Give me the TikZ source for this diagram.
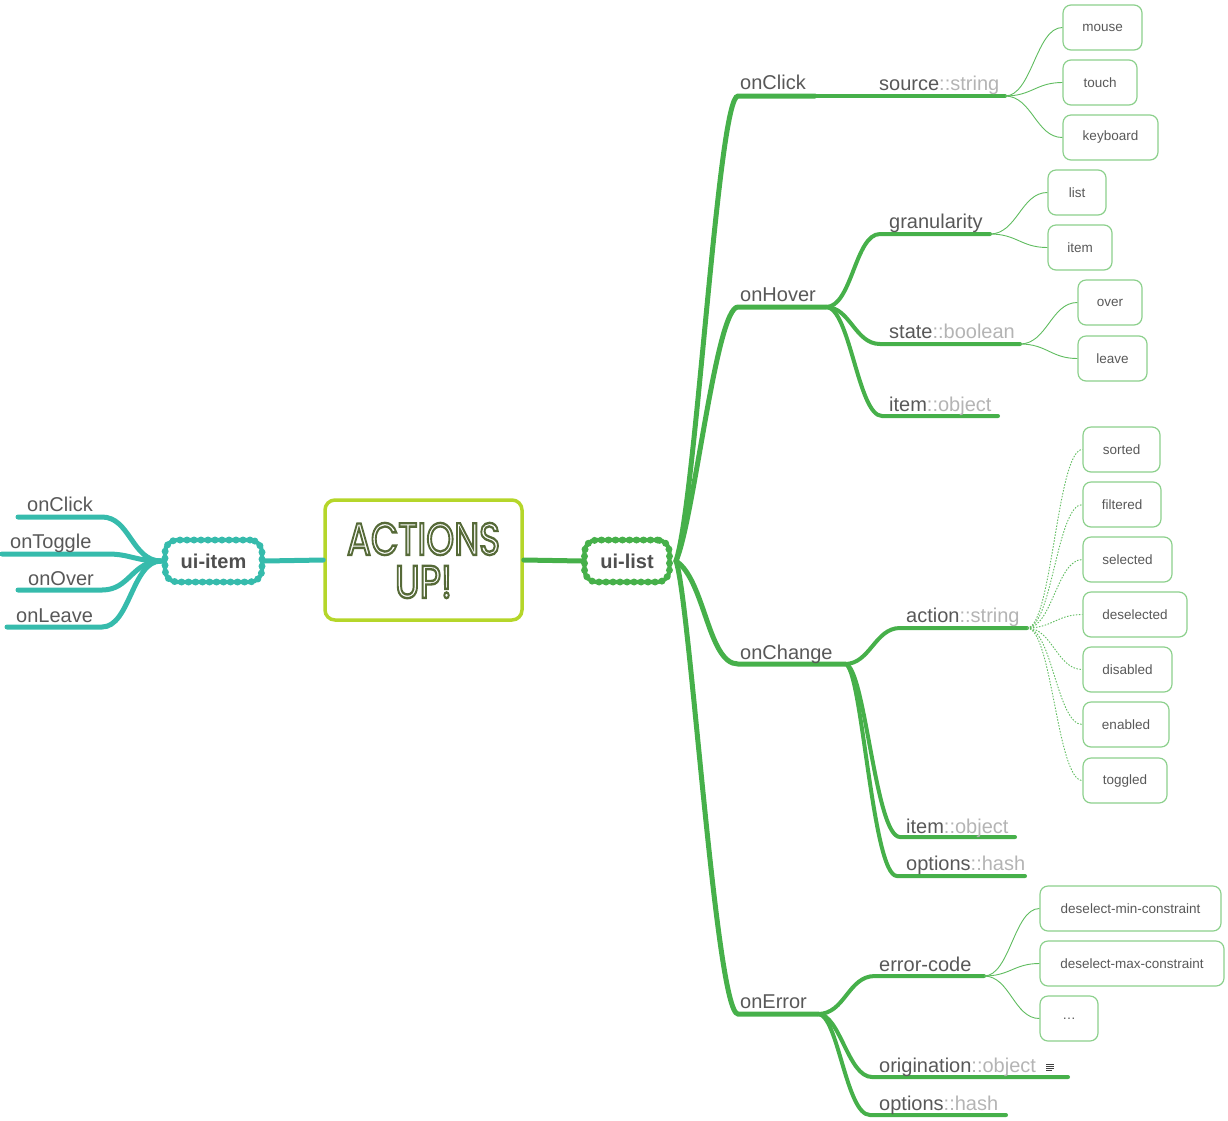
\documentclass[tikz,border=0pt]{standalone}
\usepackage{fontspec}
\setmainfont{Liberation Sans}
\newfontfamily\titlefont{Poppins}
\usepackage{graphicx}
\usetikzlibrary{decorations.pathmorphing}
\definecolor{brc}{RGB}{70,176,74}
\definecolor{tealc}{RGB}{54,187,172}
\definecolor{limec}{RGB}{181,214,42}
\definecolor{leafb}{RGB}{140,208,140}
\definecolor{leafl}{RGB}{95,188,95}
\definecolor{txt}{RGB}{88,88,88}
\definecolor{typ}{RGB}{180,180,180}
\definecolor{olivec}{RGB}{86,106,56}
\tikzset{
  lbl/.style={font=\fontsize{20}{22}\selectfont, text=txt, inner sep=0pt, anchor=base west},
  leaf/.style={draw=leafb, line width=1.2pt, rounded corners=8pt, minimum height=45pt, inner sep=0pt,
     font=\fontsize{13.5}{15}\selectfont, text=txt},
  mainb/.style={draw=brc, line width=5pt, line cap=round},
  subb/.style={draw=brc, line width=4pt, line cap=round},
  tealb/.style={draw=tealc, line width=5pt, line cap=round},
  leafc/.style={draw=leafl, line width=0.9pt},
  leafd/.style={draw=leafl, line width=0.9pt, dash pattern=on 1.5pt off 1.5pt},
  cloudy/.style={draw=#1, line width=4.2pt, rounded corners=12pt,
     postaction={draw=#1, line width=7pt, line cap=round, dash pattern=on 0pt off 7pt},
     inner sep=0pt, font=\bfseries\fontsize{20}{22}\selectfont, text=txt!90!black}
}
\newcommand{\hollowtext}[1]{\special{pdf:literal direct 1 Tr 2.4 w}#1\special{pdf:literal direct 0 Tr}}
\begin{document}
\begin{tikzpicture}[x=1pt,y=-1pt]
\useasboundingbox (0,0) rectangle (1228,1120);

% ---------- root ----------
\node[draw=limec, line width=3.5pt, rounded corners=10pt, minimum width=197pt, minimum height=120pt] (root) at (423.5,560) {};
\node[inner sep=0pt, text=olivec] (t1) at (423.5,539) {\resizebox{153pt}{32pt}{\titlefont\fontsize{46}{46}\selectfont\hollowtext{ACTIONS}}};
\node[inner sep=0pt, text=olivec] (t2) at (423.5,582) {\resizebox{57pt}{32pt}{\titlefont\fontsize{46}{46}\selectfont\hollowtext{UP!}}};

% ---------- clouds ----------
\node[cloudy=tealc, minimum width=97pt, minimum height=42pt] (uiitem) at (213.5,561) {ui-item};
\node[cloudy=brc, minimum width=85pt, minimum height=42pt] (uilist) at (627,561) {ui-list};

\draw[tealb] (uiitem.east) -- (root.west);
\draw[mainb] (root.east) -- (uilist.west);

% ---------- left (teal) ----------
\coordinate (ii) at (161,561);
\coordinate (lc) at (18,517);
\coordinate (lt) at (2,554);
\coordinate (lo) at (18,590);
\coordinate (ll) at (7,627);
\draw[tealb] (ii) .. controls (132,561) and (130,517) .. (102,517) -- (lc);
\draw[tealb] (ii) .. controls (135,561) and (130,554) .. (108,554) -- (lt);
\draw[tealb] (ii) .. controls (132,561) and (130,590) .. (102,590) -- (lo);
\draw[tealb] (ii) .. controls (132,561) and (130,627) .. (102,627) -- (ll);
\node[lbl] (lclick) at (27,511) {onClick};
\node[lbl] (ltoggle) at (10,548) {onToggle};
\node[lbl] (lover) at (28,585) {onOver};
\node[lbl] (lleave) at (16,622) {onLeave};

% ---------- right main branches ----------
\coordinate (R) at (676,561);
\coordinate (K) at (815,96);
\coordinate (H) at (826,307);
\coordinate (C) at (845,664);
\coordinate (E) at (818,1014);
\draw[mainb] (R) .. controls (696,500) and (718,96) .. (738,96) -- (K);
\draw[mainb] (R) .. controls (694,520) and (716,307) .. (738,307) -- (H);
\draw[mainb] (R) .. controls (705,580) and (708,664) .. (738,664) -- (C);
\draw[mainb] (R) .. controls (690,600) and (716,1014) .. (738,1014) -- (E);
\node[lbl] (nclick) at (740,89) {onClick};
\node[lbl] (nhover) at (740,301) {onHover};
\node[lbl] (nchange) at (740,659) {onChange};
\node[lbl] (nerror) at (740,1008) {onError};

% ---------- sub branches ----------
\coordinate (S) at (1005,96);
\coordinate (G) at (990,234);
\coordinate (St) at (1020,344);
\coordinate (Io) at (998,416);
\coordinate (A) at (1027,628);
\coordinate (Ic) at (1015,837);
\coordinate (Oc) at (1025,876);
\coordinate (Ec) at (984,976);
\coordinate (Or) at (1068,1077);
\coordinate (Oe) at (1006,1115);

\draw[subb] (K) -- (S);
\draw[subb] (H) .. controls (852,307) and (855,234) .. (880,234) -- (G);
\draw[subb] (H) .. controls (850,307) and (855,344) .. (880,344) -- (St);
\draw[subb] (H) .. controls (850,307) and (858,416) .. (882,416) -- (Io);
\draw[subb] (C) .. controls (870,664) and (875,628) .. (900,628) -- (A);
\draw[subb] (C) .. controls (865,664) and (875,837) .. (900,837) -- (Ic);
\draw[subb] (C) .. controls (862,664) and (872,876) .. (897,876) -- (Oc);
\draw[subb] (E) .. controls (845,1014) and (848,976) .. (875,976) -- (Ec);
\draw[subb] (E) .. controls (840,1014) and (848,1077) .. (872,1077) -- (Or);
\draw[subb] (E) .. controls (838,1014) and (846,1115) .. (870,1115) -- (Oe);

\node[lbl] (lsource) at (879,90) {source\textcolor{typ}{::string}};
\node[lbl] (lgran) at (889,228) {granularity};
\node[lbl] (lstate) at (889,338) {state\textcolor{typ}{::boolean}};
\node[lbl] (litem1) at (889,411) {item\textcolor{typ}{::object}};
\node[lbl] (laction) at (906,622) {action\textcolor{typ}{::string}};
\node[lbl] (litem2) at (906,833) {item\textcolor{typ}{::object}};
\node[lbl] (lopt1) at (906,870) {options\textcolor{typ}{::hash}};
\node[lbl] (lerr) at (879,971) {error-code};
\node[lbl] (lorig) at (879,1072) {origination\textcolor{typ}{::object}};
\node[lbl] (lopt2) at (879,1110) {options\textcolor{typ}{::hash}};

% note icon
\coordinate (note) at (1046,1064);
\foreach \d/\w in {0/8,2/8,4/8,6/6}
  \draw[black!75, line width=0.8pt] ([yshift=-\d pt]note) -- ++(\w,0);

% ---------- leaves ----------
\node[leaf, minimum width=79pt] (mouse) at (1102.5,27.5) {mouse};
\node[leaf, minimum width=74pt] (touch) at (1100,82.5) {touch};
\node[leaf, minimum width=95pt] (keyboard) at (1110.5,137.5) {keyboard};
\node[leaf, minimum width=58pt] (list) at (1077,192.5) {list};
\node[leaf, minimum width=64pt] (item) at (1080,247.5) {item};
\node[leaf, minimum width=64pt] (over) at (1110,302.5) {over};
\node[leaf, minimum width=69pt] (leave) at (1112.5,358.5) {leave};
\node[leaf, minimum width=77pt] (sorted) at (1121.5,449.5) {sorted};
\node[leaf, minimum width=78pt] (filtered) at (1122,504.5) {filtered};
\node[leaf, minimum width=89pt] (selected) at (1127.5,559.5) {selected};
\node[leaf, minimum width=104pt] (deselected) at (1135,614.5) {deselected};
\node[leaf, minimum width=89pt] (disabled) at (1127.5,669.5) {disabled};
\node[leaf, minimum width=86pt] (enabled) at (1126,724.5) {enabled};
\node[leaf, minimum width=84pt] (toggled) at (1125,780.5) {toggled};
\node[leaf, minimum width=181pt] (dmin) at (1130.5,908.5) {deselect-min-constraint};
\node[leaf, minimum width=184pt] (dmax) at (1132,963.5) {deselect-max-constraint};
\node[leaf, minimum width=58pt] (dots) at (1069,1018.5) {\dots};

\foreach \n in {mouse,touch,keyboard}
  \draw[leafc] (S) .. controls (1032,96) and (1036,0|-\n.west) .. (\n.west);
\foreach \n in {list,item}
  \draw[leafc] (G) .. controls (1017,234) and (1021,0|-\n.west) .. (\n.west);
\foreach \n in {over,leave}
  \draw[leafc] (St) .. controls (1047,344) and (1051,0|-\n.west) .. (\n.west);
\foreach \n in {sorted,filtered,selected,deselected,disabled,enabled,toggled}
  \draw[leafd] (A) .. controls (1052,628) and (1057,0|-\n.west) .. (\n.west);
\foreach \n in {dmin,dmax,dots}
  \draw[leafc] (Ec) .. controls (1010,976) and (1014,0|-\n.west) .. (\n.west);
\end{tikzpicture}
\end{document}
